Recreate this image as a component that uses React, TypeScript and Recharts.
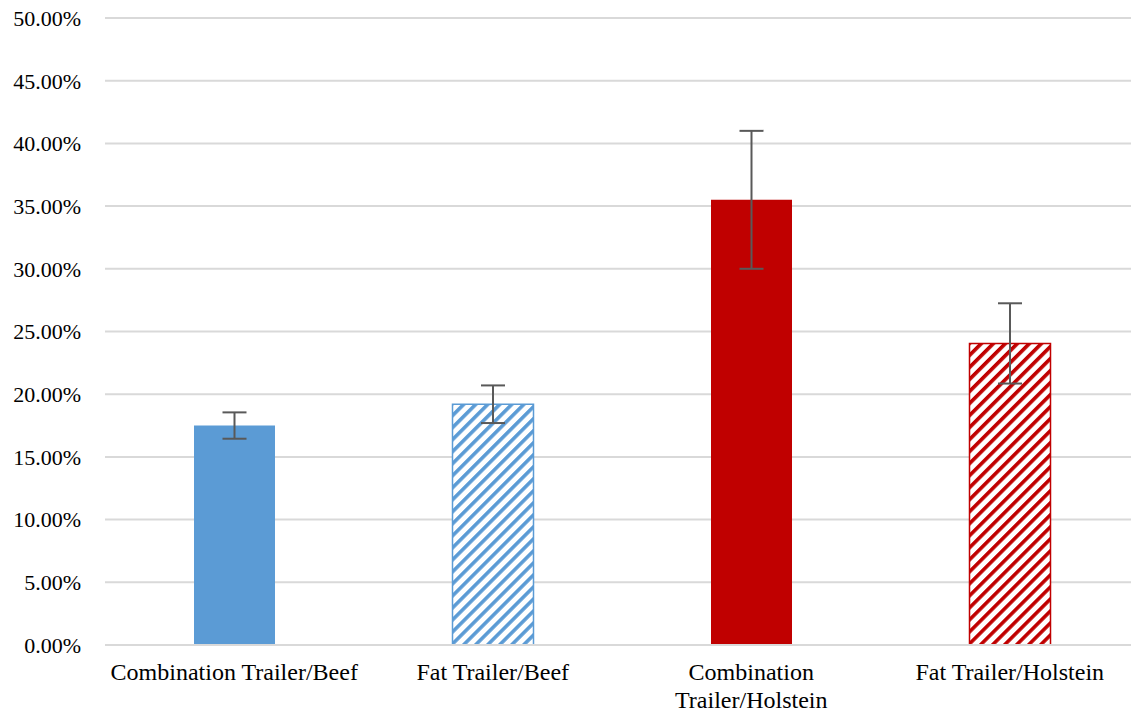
import { BarChart, Bar, XAxis, YAxis, CartesianGrid, ErrorBar, Cell } from 'recharts';

const categories = [
    'Combination Trailer/Beef',
    'Fat Trailer/Beef',
    'Combination Trailer/Holstein',
    'Fat Trailer/Holstein',
];
// how the category labels wrap under the axis
const categoryLines = [
    ['Combination Trailer/Beef'],
    ['Fat Trailer/Beef'],
    ['Combination', 'Trailer/Holstein'],
    ['Fat Trailer/Holstein'],
];
const percentValues = [17.5, 19.2, 35.5, 24.05];
const percentErrors = [1.05, 1.5, 5.5, 3.2];
const yTicks = [0, 5, 10, 15, 20, 25, 30, 35, 40, 45, 50];

const data = categories.map((name, i) => ({
    name,
    value: percentValues[i],
    err: percentErrors[i],
}));

const BLUE = '#5B9BD5';
const RED = '#C00000';
const barFills = [BLUE, 'url(#stripeBlue)', RED, 'url(#stripeRed)'];
const barStrokes = ['none', BLUE, 'none', RED];

const FONT = '"Liberation Serif", "Times New Roman", serif';

const CategoryTick = ({ x, y, payload }: any) => {
    const idx = categories.indexOf(payload.value);
    const lines = idx >= 0 ? categoryLines[idx] : [String(payload.value)];
    return (
        <text x={x} y={y} textAnchor="middle" fill="#000" style={{ fontFamily: FONT, fontSize: 24 }}>
            {lines.map((line, i) => (
                <tspan key={line} x={x} dy={i === 0 ? 17 : 28}>
                    {line}
                </tspan>
            ))}
        </text>
    );
};

const App = () => {
    return (
        <div style={{ position: 'absolute', left: 0, top: 0, width: 1131, height: 715, overflow: 'hidden', background: '#fff' }}>
            <svg width={0} height={0} style={{ position: 'absolute' }}>
                <defs>
                    <pattern id="stripeBlue" width={8.5} height={8.5} patternUnits="userSpaceOnUse" patternTransform="rotate(45)">
                        <rect width={8.5} height={8.5} fill="#fff" />
                        <rect x={0} y={0} width={3.6} height={8.5} fill={BLUE} />
                    </pattern>
                    <pattern id="stripeRed" width={8.5} height={8.5} patternUnits="userSpaceOnUse" patternTransform="rotate(45)">
                        <rect width={8.5} height={8.5} fill="#fff" />
                        <rect x={0} y={0} width={3.6} height={8.5} fill={RED} />
                    </pattern>
                </defs>
            </svg>
            <BarChart
                width={1145}
                height={715}
                data={data}
                margin={{ top: 18, right: 6, bottom: 0, left: 0 }}
                style={{ fontFamily: FONT }}
            >
                <CartesianGrid vertical={false} stroke="#d9d9d9" strokeWidth={2} />
                <XAxis
                    dataKey="name"
                    height={70}
                    tickLine={false}
                    tickSize={0}
                    tickMargin={18}
                    axisLine={{ stroke: '#d9d9d9', strokeWidth: 2 }}
                    tick={<CategoryTick />}
                    interval={0}
                />
                <YAxis
                    width={105}
                    domain={[0, 50]}
                    ticks={yTicks}
                    tickFormatter={(v) => `${Number(v).toFixed(2)}%`}
                    tickLine={false}
                    tickSize={0}
                    tickMargin={24}
                    axisLine={false}
                    tick={{ fontSize: 22, fill: '#000', fontFamily: FONT }}
                />
                <Bar dataKey="value" barSize={81} isAnimationActive={false}>
                    {data.map((d, i) => (
                        <Cell key={d.name} fill={barFills[i]} stroke={barStrokes[i]} strokeWidth={1.5} />
                    ))}
                    <ErrorBar dataKey="err" width={12} stroke="#595959" strokeWidth={2} direction="y" />
                </Bar>
            </BarChart>
        </div>
    );
};

export default App;
